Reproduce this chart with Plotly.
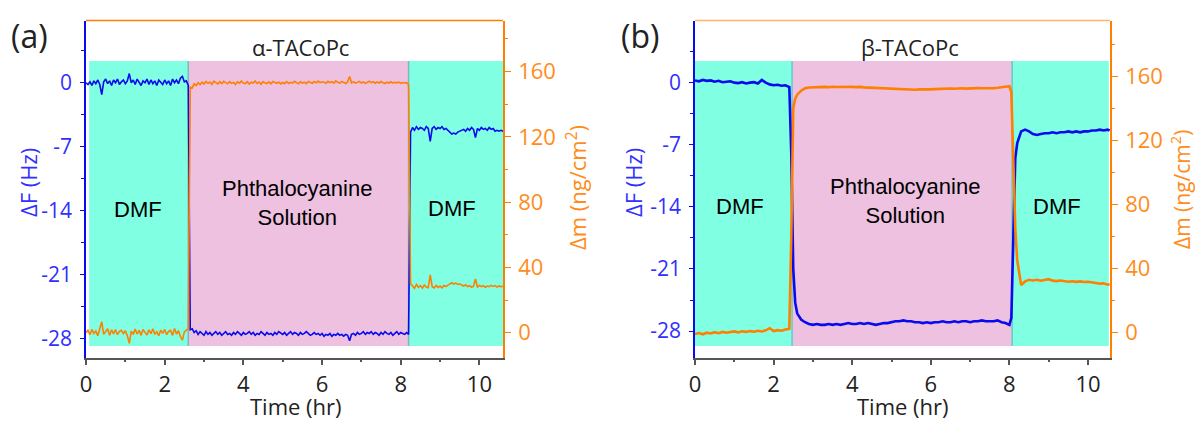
import plotly.graph_objects as go

# ---------------- DATA ----------------
# Panel (a): alpha-TACoPc, time in hours
TIME_A = [
    0.00, 0.05, 0.10, 0.15, 0.20, 0.25, 0.30, 0.35, 0.40, 0.45,
    0.50, 0.55, 0.60, 0.65, 0.70, 0.75, 0.80, 0.85, 0.90, 0.95,
    1.00, 1.05, 1.10, 1.15, 1.20, 1.25, 1.30, 1.35, 1.40, 1.45,
    1.50, 1.55, 1.60, 1.65, 1.70, 1.75, 1.80, 1.85, 1.90, 1.95,
    2.00, 2.05, 2.10, 2.15, 2.20, 2.25, 2.30, 2.35, 2.40, 2.45,
    2.50, 2.55, 2.60, 2.65, 2.70, 2.75, 2.80, 2.85, 2.90, 2.95,
    3.00, 3.05, 3.10, 3.15, 3.20, 3.25, 3.30, 3.35, 3.40, 3.45,
    3.50, 3.55, 3.60, 3.65, 3.70, 3.75, 3.80, 3.85, 3.90, 3.95,
    4.00, 4.05, 4.10, 4.15, 4.20, 4.25, 4.30, 4.35, 4.40, 4.45,
    4.50, 4.55, 4.60, 4.65, 4.70, 4.75, 4.80, 4.85, 4.90, 4.95,
    5.00, 5.05, 5.10, 5.15, 5.20, 5.25, 5.30, 5.35, 5.40, 5.45,
    5.50, 5.55, 5.60, 5.65, 5.70, 5.75, 5.80, 5.85, 5.90, 5.95,
    6.00, 6.05, 6.10, 6.15, 6.20, 6.25, 6.30, 6.35, 6.40, 6.45,
    6.50, 6.55, 6.60, 6.65, 6.70, 6.75, 6.80, 6.85, 6.90, 6.95,
    7.00, 7.05, 7.10, 7.15, 7.20, 7.25, 7.30, 7.35, 7.40, 7.45,
    7.50, 7.55, 7.60, 7.65, 7.70, 7.75, 7.80, 7.85, 7.90, 7.95,
    8.00, 8.05, 8.10, 8.15, 8.20, 8.25, 8.30, 8.35, 8.40, 8.45,
    8.50, 8.55, 8.60, 8.65, 8.70, 8.75, 8.80, 8.85, 8.90, 8.95,
    9.00, 9.05, 9.10, 9.15, 9.20, 9.25, 9.30, 9.35, 9.40, 9.45,
    9.50, 9.55, 9.60, 9.65, 9.70, 9.75, 9.80, 9.85, 9.90, 9.95,
    10.00, 10.05, 10.10, 10.15, 10.20, 10.25, 10.30, 10.35, 10.40, 10.45,
    10.50, 10.55, 10.60,
]
DF_A_DMF1 = [
    0.0, -0.2, 0.1, -0.3, 0.2, -0.1, 0.3, -0.2, -1.3, 0.1,
    0.4, -0.1, 0.2, -0.3, 0.3, 0.0, 0.4, -0.2, 0.1, 0.3,
    -0.1, 0.2, 1.0, 0.0, 0.3, -0.2, 0.4, 0.1, -0.3, 0.2,
    0.0, 0.4, -0.2, 0.3, -0.1, 0.2, -0.3, 0.3, 0.0, -0.2,
    0.3, -0.1, 0.2, -0.3, 0.4, 0.0, 0.3, -0.1, 0.5, 0.7,
    0.1, 0.2, -0.3,
]
DF_A_PC = [
    -27.0, -26.9, -27.3, -27.1, -27.5, -27.2, -27.4, -27.6, -27.2, -27.5,
    -27.3, -27.6, -27.4, -27.2, -27.5, -27.3, -27.6, -27.4, -27.2, -27.5,
    -27.4, -27.6, -27.3, -27.5, -27.2, -27.4, -27.6, -27.3, -27.5, -27.4,
    -27.2, -27.5, -27.3, -27.6, -27.4, -27.5, -27.2, -27.4, -27.6, -27.3,
    -27.5, -27.4, -27.6, -27.3, -27.5, -27.2, -27.4, -27.5, -27.3, -27.6,
    -27.4, -27.2, -27.5, -27.3, -27.4, -27.6, -27.3, -27.5, -27.4, -27.2,
    -27.4, -27.6, -27.5, -27.3, -27.5, -27.4, -27.6, -27.4, -27.7, -27.5,
    -27.6, -27.4, -27.7, -27.5, -27.6, -27.4, -27.6, -27.5, -27.7, -27.5,
    -27.6, -28.2, -27.5, -27.4, -27.6, -27.3, -27.5, -27.4, -27.2, -27.5,
    -27.3, -27.4, -27.2, -27.5, -27.3, -27.4, -27.6, -27.3, -27.5, -27.2,
    -27.4, -27.5, -27.3, -27.6, -27.4, -27.2, -27.5, -27.3, -27.4, -27.5,
    -27.3, -27.5,
]
DF_A_DMF2 = [
    -5.4, -4.9, -5.2, -4.8, -5.1, -4.9, -5.0, -5.2, -4.8, -5.0,
    -6.4, -5.0, -4.8, -5.1, -4.9, -5.0, -4.8, -5.1, -5.0, -5.2,
    -5.4, -5.6, -5.5, -5.6, -5.4, -5.3, -5.2, -5.1, -5.3, -5.0,
    -5.2, -4.9, -5.1, -6.0, -5.0, -5.2, -4.9, -5.1, -5.0, -5.2,
    -4.9, -5.1, -5.0, -5.3, -5.2, -5.3, -5.2, -5.3,
]
DM_A_DMF1 = [
    0.0, 1.5, -1.2, 2.0, -0.5, 1.0, -1.8, 2.2, 6.7, -1.0,
    0.5, 2.5, -1.5, 1.8, -0.8, 2.0, -1.2, 0.8, 1.5, -0.5,
    1.2, -1.8, -6.5, 1.0, -1.0, 2.2, -0.8, 1.5, -1.6, 2.0,
    0.2, -1.4, 1.8, -0.6, 2.4, -1.0, 0.6, -1.8, 1.6, -0.4,
    2.0, -1.2, 0.8, 1.4, -1.6, 2.6, -0.8, 1.2, -2.2, -4.5,
    0.5, 1.8, 2.5,
]
DM_A_PC = [
    150.5, 150.0, 152.5, 151.5, 153.2, 152.0, 153.5, 152.4, 154.0, 152.8,
    153.6, 152.2, 154.2, 153.0, 152.4, 153.8, 152.6, 154.0, 153.2, 152.5,
    153.9, 152.8, 153.4, 152.1, 153.7, 152.9, 154.1, 153.0, 152.6, 153.8,
    152.4, 153.5, 153.0, 154.2, 152.7, 153.6, 152.3, 153.9, 153.1, 152.6,
    153.7, 152.5, 154.0, 153.2, 152.8, 153.6, 152.4, 153.3, 152.6, 153.9,
    152.7, 153.4, 152.9, 154.1, 153.0, 152.5, 153.8, 152.9, 153.5, 152.6,
    154.0, 153.2, 152.8, 153.9, 153.1, 154.2, 153.3, 153.6, 153.6, 152.8,
    154.0, 153.2, 153.8, 152.9, 154.3, 153.4, 153.0, 154.0, 153.3, 152.7,
    153.6, 157.0, 153.1, 153.8, 152.9, 153.5, 154.0, 153.0, 153.7, 152.8,
    153.4, 154.1, 153.2, 153.8, 152.9, 153.6, 153.0, 153.9, 153.2, 152.7,
    153.5, 153.0, 153.8, 152.9, 153.4, 153.1, 153.6, 152.8, 153.3, 153.0,
    153.2, 152.0,
]
DM_A_DMF2 = [
    30.0, 28.5, 27.2, 29.6, 27.8, 28.9, 27.3, 29.2, 28.0, 27.6,
    35.5, 28.2, 27.4, 29.0, 27.8, 28.6, 27.5, 28.9, 28.3, 29.2,
    30.2, 30.6, 29.8, 30.4, 29.6, 30.0, 29.2, 28.6, 29.4, 28.3,
    28.8, 27.9, 28.5, 33.0, 28.0, 29.0, 28.2, 28.8, 27.9, 28.6,
    28.2, 29.0, 28.4, 28.9, 28.0, 28.7, 28.2, 28.5,
]

# Panel (b): beta-TACoPc
TIME_B = [
    0.0, 0.1, 0.2, 0.3, 0.4, 0.5, 0.6, 0.7, 0.8, 0.9,
    1.0, 1.1, 1.2, 1.3, 1.4, 1.5, 1.6, 1.7, 1.8, 1.9,
    2.0, 2.1, 2.2, 2.3, 2.4, 2.45, 2.5, 2.55,
    2.6, 2.7, 2.8, 2.9, 3.0, 3.1, 3.2, 3.3, 3.4, 3.5,
    3.6, 3.7, 3.8, 3.9, 4.0, 4.1, 4.2, 4.3, 4.4, 4.5,
    4.6, 4.7, 4.8, 4.9, 5.0, 5.1, 5.2, 5.3, 5.4, 5.5,
    5.6, 5.7, 5.8, 5.9, 6.0, 6.1, 6.2, 6.3, 6.4, 6.5,
    6.6, 6.7, 6.8, 6.9, 7.0, 7.1, 7.2, 7.3, 7.4, 7.5,
    7.6, 7.7, 7.8, 7.9, 8.0, 8.05, 8.1, 8.15,
    8.2, 8.3, 8.4, 8.5, 8.6, 8.7, 8.8, 8.9, 9.0, 9.1,
    9.2, 9.3, 9.4, 9.5, 9.6, 9.7, 9.8, 9.9, 10.0, 10.1,
    10.2, 10.3, 10.4, 10.5, 10.55,
]
DF_B_DMF1 = [
    0.25, 0.15, 0.3, 0.2, 0.25, 0.1, 0.2, 0.05, 0.1, 0.15,
    0.0, -0.05, 0.05, -0.1, 0.0, 0.05, -0.1, 0.3, 0.0, -0.2,
    -0.3, -0.25, -0.35, -0.3, -0.5,
]
DF_B_DROP = [-8.0, -21.0, -24.8]
DF_B_PC = [
    -26.0, -26.7, -27.0, -27.2, -27.3, -27.2, -27.3, -27.3, -27.2, -27.3,
    -27.2, -27.3, -27.2, -27.1, -27.2, -27.2, -27.1, -27.2, -27.1, -27.2,
    -27.3, -27.2, -27.1, -27.1, -27.0, -26.9, -26.9, -26.8, -26.9, -26.9,
    -27.0, -27.0, -27.1, -27.0, -27.1, -27.0, -27.0, -26.9, -27.0, -27.0,
    -26.9, -27.0, -26.9, -26.9, -27.0, -26.9, -26.9, -26.8, -26.9, -26.9,
    -26.9, -26.8, -27.0, -27.1, -27.3,
]
DF_B_RISE = [-26.5, -18.0, -8.5]
DF_B_DMF2 = [
    -6.8, -5.5, -5.3, -5.5, -5.8, -5.9, -5.8, -5.7, -5.7, -5.6,
    -5.7, -5.6, -5.6, -5.5, -5.6, -5.5, -5.6, -5.5, -5.5, -5.4,
    -5.4, -5.3, -5.4, -5.3, -5.4,
]
DM_B_DMF1 = [
    -0.8, -0.2, -1.0, 0.0, -0.5, 0.3, -0.3, 0.5, 0.0, 0.4,
    0.8, 0.2, 0.9, 0.5, 1.0, 0.6, 1.2, 0.8, 1.5, 2.8,
    1.0, 1.6, 1.2, 2.0, 2.4,
]
DM_B_RISE = [60.0, 140.0, 146.0]
DM_B_PC = [
    148.5, 151.0, 152.5, 153.0, 153.2, 153.0, 153.3, 153.4, 153.2, 153.5,
    153.3, 153.4, 153.5, 153.3, 153.4, 153.2, 153.4, 153.1, 153.0, 152.8,
    152.7, 152.5, 152.6, 152.3, 152.2, 152.0, 151.8, 151.9, 151.7, 151.8,
    151.6, 151.8, 151.7, 151.9, 151.8, 152.0, 152.2, 152.1, 152.3, 152.4,
    152.2, 152.4, 152.5, 152.3, 152.5, 152.4, 152.6, 152.5, 152.4, 152.7,
    152.6, 152.8, 153.0, 153.4, 153.8,
]
DM_B_DROP = [150.0, 100.0, 65.0]
DM_B_DMF2 = [
    45.0, 29.8, 32.0, 33.0, 32.6, 33.0, 32.4, 32.8, 33.4, 32.5,
    32.2, 32.6, 32.0, 31.8, 32.1, 31.7, 32.0, 31.6, 31.8, 31.2,
    31.0, 30.6, 30.8, 30.0, 30.2,
]

# Solvent phases (hours): [start, end, label]
PHASES_A = [(0.08, 2.6, "DMF"), (2.6, 8.2, "PC"), (8.2, 10.6, "DMF")]
PHASES_B = [(0.0, 2.47, "DMF"), (2.47, 8.07, "PC"), (8.07, 10.53, "DMF")]

# Tick labels
DF_TICKS = [0, -7, -14, -21, -28]
DF_TICKTEXT = ["0", "-7", "-14", "-21", "-28"]
DF_MINOR = [3.5, -3.5, -10.5, -17.5, -24.5]
DM_TICKS = [0, 40, 80, 120, 160]
DM_MINOR = [20, 60, 100, 140, 180]
T_TICKS = [0, 2, 4, 6, 8, 10]
T_MINOR = [1, 3, 5, 7, 9]

DF_A = DF_A_DMF1 + DF_A_PC + DF_A_DMF2
DM_A = DM_A_DMF1 + DM_A_PC + DM_A_DMF2
DF_B = DF_B_DMF1 + DF_B_DROP + DF_B_PC + DF_B_RISE + DF_B_DMF2
DM_B = DM_B_DMF1 + DM_B_RISE + DM_B_PC + DM_B_DROP + DM_B_DMF2

# ---------------- STYLE ----------------
W, H = 1195, 421
BLUE = "#0A0AEE"
BLUE_T = "#3030FF"
ORANGE = "#FF7F00"
ORANGE_T = "#FF8C1A"
CYAN = "#80FFE2"
PINK = "#EDC1DF"
GRAY = "#555555"
TXT = "#222222"
FONT = "Open Sans"

def px(x):
    return x / W

def py(y):
    return 1 - y / H

YDOM = [py(357.7), py(20.5)]
XDOM_A = [px(86), px(503)]
XDOM_B = [px(695), px(1110)]

fig = go.Figure()
fig.add_trace(go.Scatter(x=TIME_A, y=DF_A, xaxis="x", yaxis="y", mode="lines",
                         line=dict(color=BLUE, width=1.6)))
fig.add_trace(go.Scatter(x=TIME_A, y=DM_A, xaxis="x", yaxis="y2", mode="lines",
                         line=dict(color=ORANGE, width=1.6)))
fig.add_trace(go.Scatter(x=TIME_B, y=DF_B, xaxis="x2", yaxis="y3", mode="lines",
                         line=dict(color=BLUE, width=2.6)))
fig.add_trace(go.Scatter(x=TIME_B, y=DM_B, xaxis="x2", yaxis="y4", mode="lines",
                         line=dict(color=ORANGE, width=2.6)))

def xax(domain, anchor, rng):
    return dict(domain=domain, anchor=anchor, range=rng, automargin=False, showline=True,
                linecolor=GRAY, linewidth=1.5, ticks="outside", ticklen=6, tickwidth=1.5,
                tickcolor=GRAY, tickmode="array", tickvals=T_TICKS,
                minor=dict(tickmode="array", tickvals=T_MINOR, ticks="outside", ticklen=3,
                           tickcolor=GRAY),
                tickfont=dict(family=FONT, size=22, color=TXT), showgrid=False,
                zeroline=False, ticklabelstandoff=0)

def yleft(anchor, rng):
    return dict(domain=YDOM, anchor=anchor, range=rng, automargin=False, showline=True,
                linecolor=BLUE, linewidth=1.5, ticks="outside", ticklen=4, tickwidth=1.2,
                tickcolor=BLUE, tickmode="array", tickvals=DF_TICKS, ticktext=DF_TICKTEXT,
                minor=dict(tickmode="array", tickvals=DF_MINOR, ticks="outside", ticklen=3,
                           tickcolor=BLUE),
                tickfont=dict(family=FONT, size=21, color=BLUE_T), showgrid=False,
                zeroline=False, ticklabelstandoff=4)

def yright(anchor, over, rng):
    return dict(domain=YDOM, anchor=anchor, overlaying=over, side="right", range=rng,
                automargin=False, showline=True, linecolor=ORANGE, linewidth=1.5,
                ticks="outside", ticklen=6, tickwidth=1.2, tickcolor=ORANGE,
                tickmode="array", tickvals=DM_TICKS,
                minor=dict(tickmode="array", tickvals=DM_MINOR, ticks="outside", ticklen=3,
                           tickcolor=ORANGE),
                tickfont=dict(family=FONT, size=22, color=ORANGE_T), showgrid=False,
                zeroline=False, ticklabelstandoff=3)

fig.update_layout(
    width=W, height=H, margin=dict(l=0, r=0, t=0, b=0, autoexpand=False),
    paper_bgcolor="white", plot_bgcolor="white", showlegend=False,
    xaxis=xax(XDOM_A, "y", [0, 10.6]),
    yaxis=yleft("x", [-30.05, 6.8]),
    yaxis2=yright("x", "y", [-15.3, 191.3]),
    xaxis2=xax(XDOM_B, "y3", [0, 10.56]),
    yaxis3=yleft("x2", [-31.0, 7.0]),
    yaxis4=yright("x2", "y3", [-15.6, 194.8]),
)

shapes = []
for xr, yr, phases, seam, top in [("x", "y", PHASES_A, "#7fb8b8", ORANGE),
                                  ("x2", "y3", PHASES_B, "#66c8c8", "#FFB36B")]:
    for x0, x1, lab in phases:
        shapes.append(dict(type="rect", xref=xr, yref=yr + " domain", x0=x0, x1=x1,
                           y0=0.035, y1=0.88, fillcolor=PINK if lab == "PC" else CYAN,
                           line=dict(width=0), layer="below"))
    for x0, x1, lab in phases[1:]:
        shapes.append(dict(type="line", xref=xr, yref=yr + " domain", x0=x0, x1=x0,
                           y0=0.035, y1=0.88, line=dict(color=seam, width=1.5), layer="below"))
    shapes.append(dict(type="line", xref=xr + " domain", yref=yr + " domain", x0=0, x1=1,
                       y0=1, y1=1, line=dict(color=top, width=1.5)))
fig.update_layout(shapes=shapes)

ann = []
def label(x, y, text, size, color=TXT, family=FONT, angle=0):
    ann.append(dict(xref="paper", yref="paper", x=px(x), y=py(y), text=text, showarrow=False,
                    xanchor="center", yanchor="middle", textangle=angle,
                    font=dict(family=family, size=size, color=color)))

label(29, 36, "(a)", 32)
label(640, 36, "(b)", 32)
label(300, 47, "α-TACoPc", 22)
label(910, 47, "β-TACoPc", 22)
label(296, 406, "Time (hr)", 22)
label(903, 406, "Time (hr)", 22)
label(28, 183, "ΔF (Hz)", 22, BLUE_T, angle=-90)
label(633, 183, "ΔF (Hz)", 22, BLUE_T, angle=-90)
label(577, 188, "Δm (ng/cm<sup>2</sup>)", 22, ORANGE_T, angle=-90)
label(1181, 190, "Δm (ng/cm<sup>2</sup>)", 21, ORANGE_T, angle=-90)

ARIAL = "Liberation Sans, Arial"
for xr, yr, pos in [("x", "y", [(1.32, -13.9), (5.37, -13.1), (9.3, -13.7)]),
                    ("x2", "y3", [(1.15, -14.0), (5.34, -13.3), (9.2, -14.0)])]:
    texts = ["DMF", "Phthalocyanine<br>Solution", "DMF"]
    for (xv, yv), t in zip(pos, texts):
        ann.append(dict(xref=xr, yref=yr, x=xv, y=yv, text=t, showarrow=False,
                        xanchor="center", yanchor="middle",
                        font=dict(family=ARIAL, size=22, color="black")))
fig.update_layout(annotations=ann)

fig.write_html("out.html")
